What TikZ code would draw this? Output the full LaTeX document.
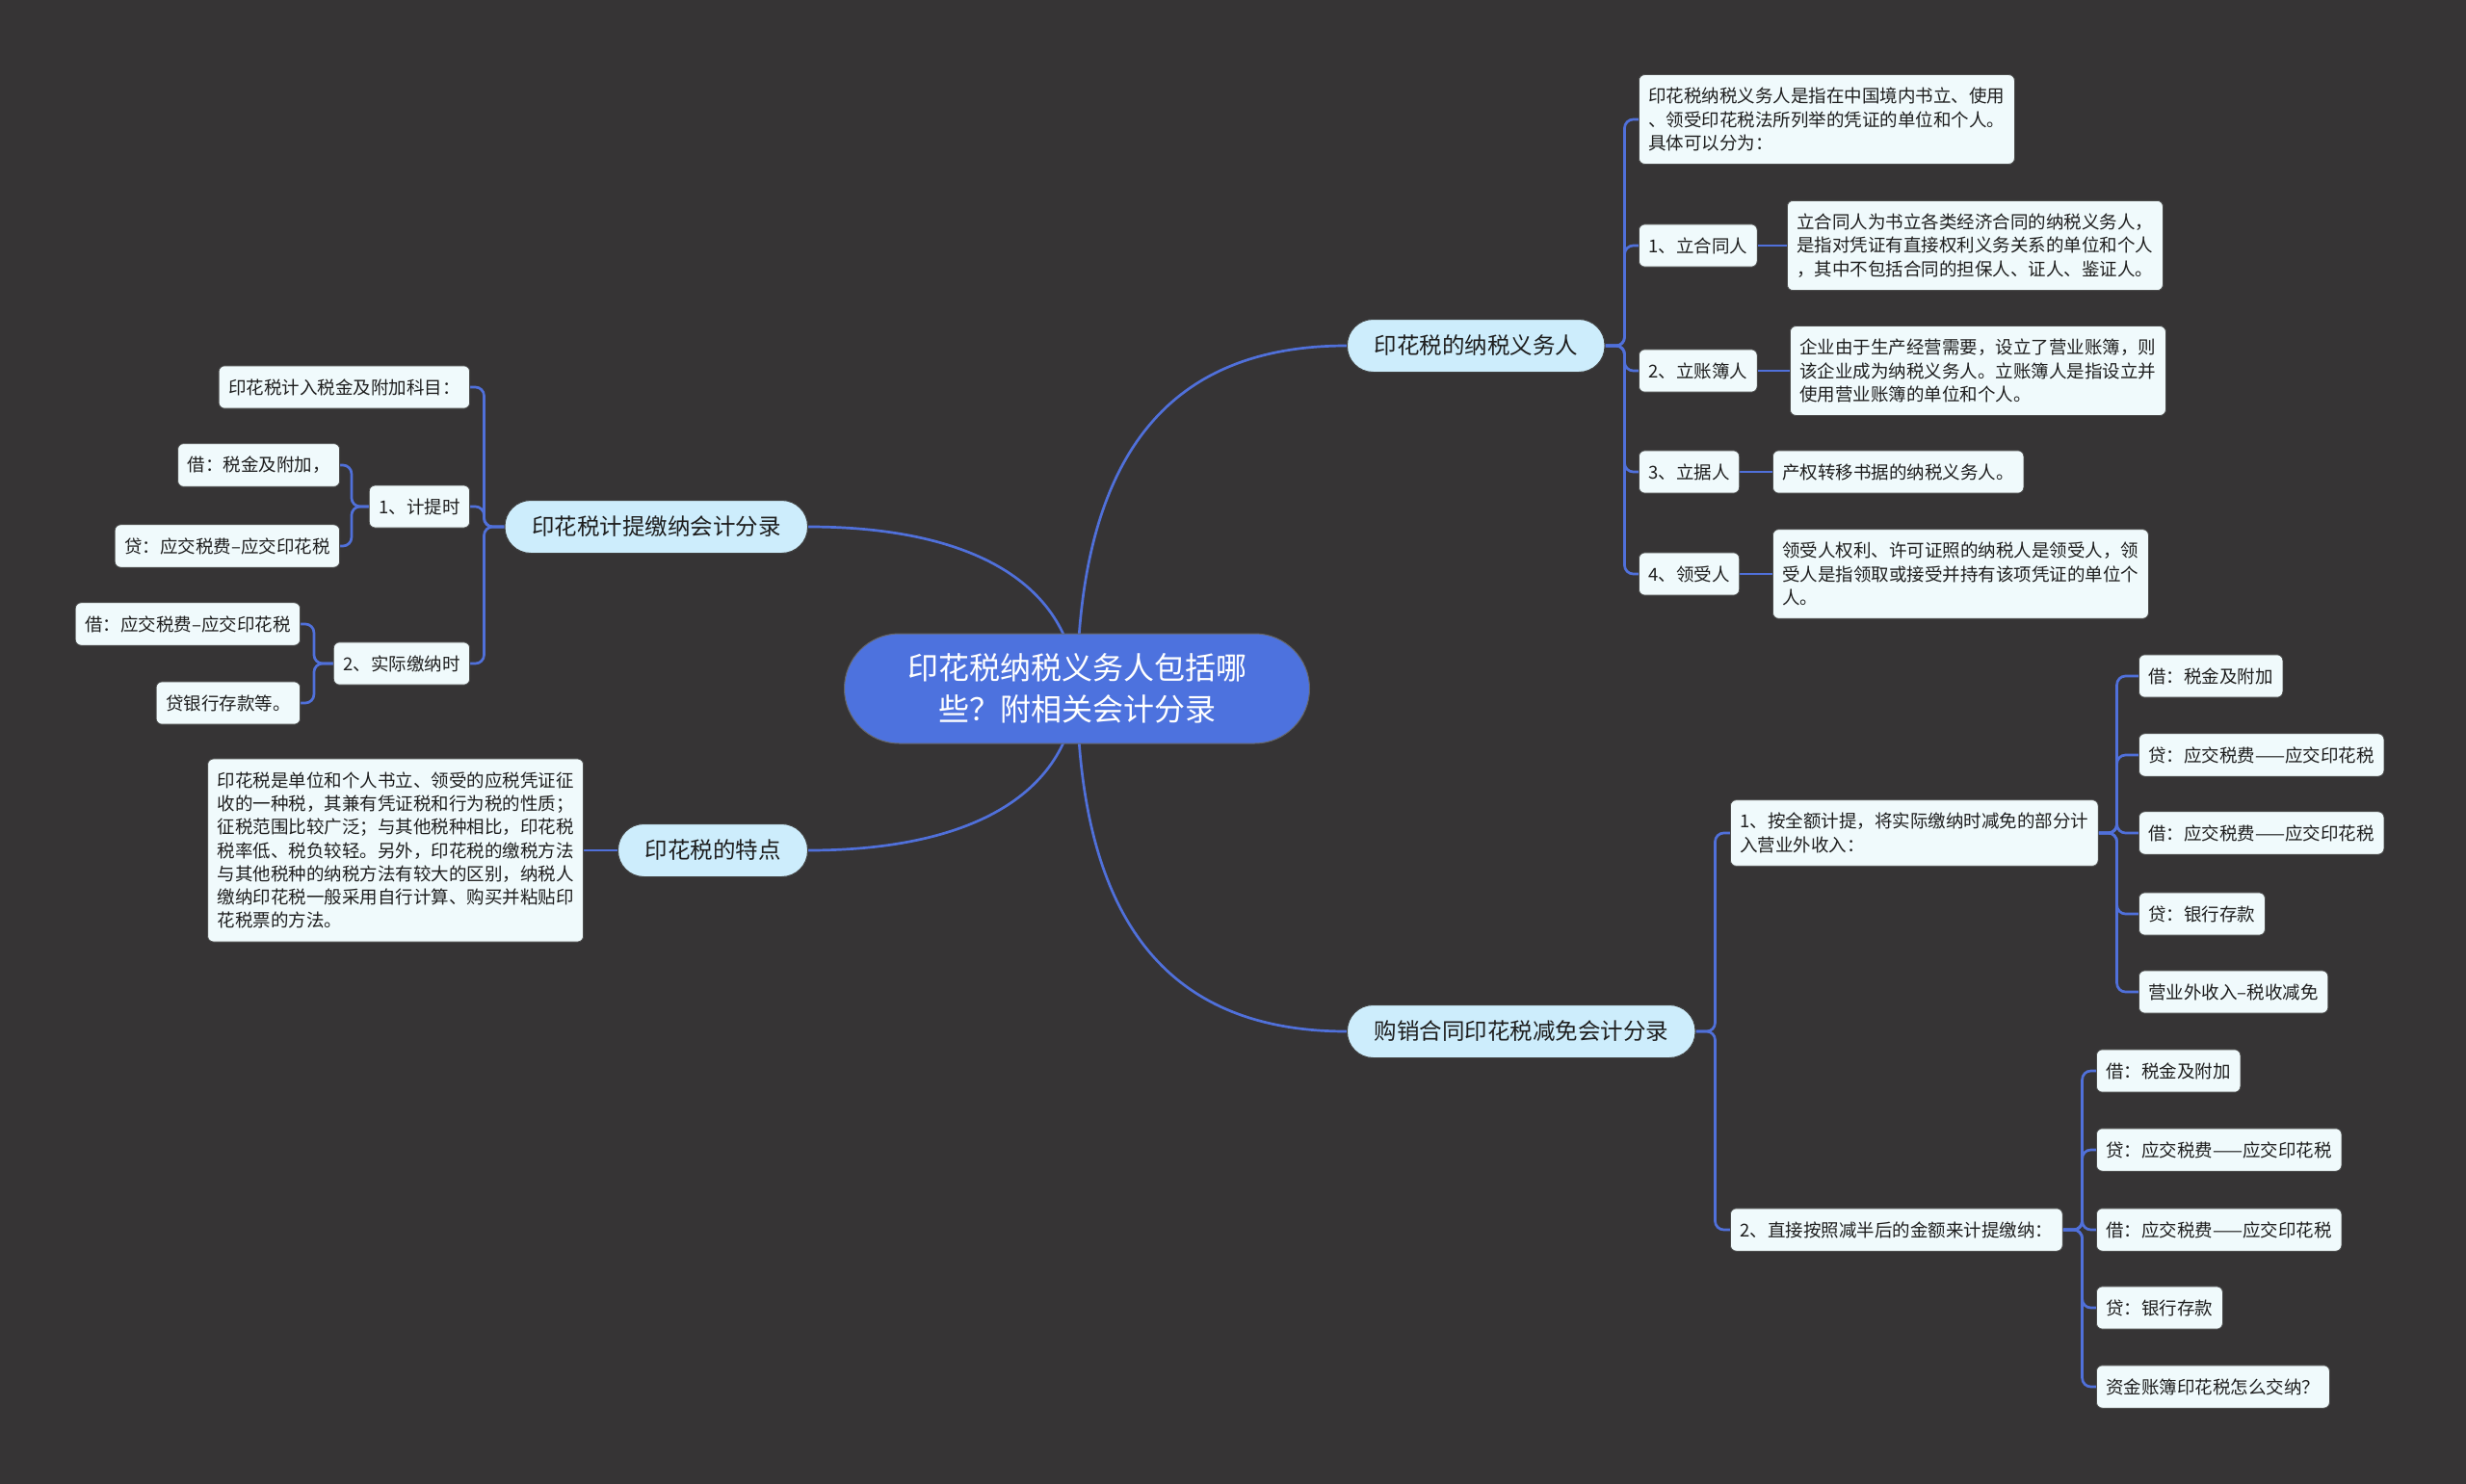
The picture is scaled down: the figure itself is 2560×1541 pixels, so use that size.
\documentclass[tikz,border=0pt]{standalone}
\usepackage{fontspec}
\setmainfont{Noto Sans CJK SC}
\usetikzlibrary{positioning}
\definecolor{bgc}{RGB}{54,52,53}
\definecolor{linec}{RGB}{80,112,218}
\definecolor{rootc}{RGB}{77,114,222}
\definecolor{lvlc}{RGB}{205,237,252}
\definecolor{leafc}{RGB}{240,250,252}
\definecolor{txt}{RGB}{30,30,30}
\pgfdeclarelayer{bglayer}
\pgfdeclarelayer{edgelayer}
\pgfsetlayers{bglayer,edgelayer,main}
\tikzset{
  rootnode/.style={draw=black!60, line width=1, fill=rootc, text=white, rounded corners=57,
    minimum width=483, minimum height=114, align=center, inner sep=0,
    font=\fontsize{32}{42.5}\selectfont},
  lvl/.style={draw=black!75, line width=1, fill=lvlc, text=txt, rounded corners=27,
    minimum height=55, inner xsep=28, inner ysep=0, font=\fontsize{23.5}{28}\selectfont},
  leaf/.style={draw=black!70, line width=0.8, fill=leafc, text=txt, rounded corners=6,
    minimum height=41, inner xsep=10, inner ysep=13.5, align=left,
    font=\fontsize{18.5}{24.3}\selectfont},
  conn/.style={draw=linec, line width=2.7, rounded corners=9},
  curve/.style={draw=linec, line width=2.7}
}
\begin{document}
\begin{tikzpicture}[x=1pt,y=-1pt]
\begin{pgfonlayer}{bglayer}
\path[fill=bgc, use as bounding box] (0,0) rectangle (2560,1541);
\end{pgfonlayer}

% root and main branches
\node[rootnode] (R) at (1118,715) {印花税纳税义务人包括哪\\些？附相关会计分录};
\node[lvl, anchor=west] (A) at (1398,359) {印花税的纳税义务人};
\node[lvl, anchor=west] (B) at (1398,1071) {购销合同印花税减免会计分录};
\node[lvl, anchor=east] (C) at (839,547) {印花税计提缴纳会计分录};
\node[lvl, anchor=east] (D) at (839,883) {印花税的特点};

% A branch
\node[leaf, anchor=west] (A0) at (1701,124) {印花税纳税义务人是指在中国境内书立、使用\\、领受印花税法所列举的凭证的单位和个人。\\具体可以分为：};
\node[leaf, anchor=west] (A1) at (1701,255) {1、立合同人};
\node[leaf, anchor=west] (A1c) at (1855,255) {立合同人为书立各类经济合同的纳税义务人，\\是指对凭证有直接权利义务关系的单位和个人\\，其中不包括合同的担保人、证人、鉴证人。};
\node[leaf, anchor=west] (A2) at (1701,385) {2、立账簿人};
\node[leaf, anchor=west] (A2c) at (1858,385) {企业由于生产经营需要，设立了营业账簿，则\\该企业成为纳税义务人。立账簿人是指设立并\\使用营业账簿的单位和个人。};
\node[leaf, anchor=west] (A3) at (1701,490) {3、立据人};
\node[leaf, anchor=west] (A3c) at (1840,490) {产权转移书据的纳税义务人。};
\node[leaf, anchor=west] (A4) at (1701,596) {4、领受人};
\node[leaf, anchor=west] (A4c) at (1840,596) {领受人权利、许可证照的纳税人是领受人，领\\受人是指领取或接受并持有该项凭证的单位个\\人。};

% B branch
\node[leaf, anchor=west] (B1) at (1796,865) {1、按全额计提，将实际缴纳时减免的部分计\\入营业外收入：};
\node[leaf, anchor=west] (B11) at (2220,702) {借：税金及附加};
\node[leaf, anchor=west] (B12) at (2220,784) {贷：应交税费——应交印花税};
\node[leaf, anchor=west] (B13) at (2220,865) {借：应交税费——应交印花税};
\node[leaf, anchor=west] (B14) at (2220,949) {贷：银行存款};
\node[leaf, anchor=west] (B15) at (2220,1030) {营业外收入–税收减免};
\node[leaf, anchor=west] (B2) at (1796,1277) {2、直接按照减半后的金额来计提缴纳：};
\node[leaf, anchor=west] (B21) at (2176,1112) {借：税金及附加};
\node[leaf, anchor=west] (B22) at (2176,1194) {贷：应交税费——应交印花税};
\node[leaf, anchor=west] (B23) at (2176,1277) {借：应交税费——应交印花税};
\node[leaf, anchor=west] (B24) at (2176,1358) {贷：银行存款};
\node[leaf, anchor=west] (B25) at (2176,1440) {资金账簿印花税怎么交纳？};

% C branch
\node[leaf, anchor=east] (C0) at (488,402) {印花税计入税金及附加科目：};
\node[leaf, anchor=east] (C1) at (488,526) {1、计提时};
\node[leaf, anchor=east] (C11) at (353,483) {借：税金及附加，};
\node[leaf, anchor=east] (C12) at (353,567) {贷：应交税费–应交印花税};
\node[leaf, anchor=east] (C2) at (488,689) {2、实际缴纳时};
\node[leaf, anchor=east] (C21) at (312,648) {借：应交税费–应交印花税};
\node[leaf, anchor=east] (C22) at (312,730) {贷银行存款等。};

% D branch
\node[leaf, anchor=east] (D1) at (606,883) {印花税是单位和个人书立、领受的应税凭证征\\收的一种税，其兼有凭证税和行为税的性质；\\征税范围比较广泛；与其他税种相比，印花税\\税率低、税负较轻。另外，印花税的缴税方法\\与其他税种的纳税方法有较大的区别，纳税人\\缴纳印花税一般采用自行计算、购买并粘贴印\\花税票的方法。};

\begin{pgfonlayer}{edgelayer}
% root curves
\draw[curve] (R.center) .. controls (1120,470) and (1215,359) .. (A.west);
\draw[curve] (R.center) .. controls (1120,960) and (1215,1071) .. (B.west);
\draw[curve] (R.center) .. controls (1110,600) and (1000,547) .. (C.east);
\draw[curve] (R.center) .. controls (1110,830) and (1000,883) .. (D.east);
% A
\foreach \n in {A0,A1,A2,A3,A4} \draw[conn] (A.east) -- ++(20,0) |- (\n.west);
\foreach \n in {1,2,3,4} \draw[conn] (A\n.east) -- (A\n c.west);
% B
\foreach \n in {B1,B2} \draw[conn] (B.east) -- ++(20,0) |- (\n.west);
\foreach \n in {B11,B12,B13,B14,B15} \draw[conn] (B1.east) -- ++(19,0) |- (\n.west);
\foreach \n in {B21,B22,B23,B24,B25} \draw[conn] (B2.east) -- ++(20,0) |- (\n.west);
% C
\foreach \n in {C0,C1,C2} \draw[conn] (C.west) -- ++(-21,0) |- (\n.east);
\foreach \n in {C11,C12} \draw[conn] (C1.west) -- ++(-18,0) |- (\n.east);
\foreach \n in {C21,C22} \draw[conn] (C2.west) -- ++(-20,0) |- (\n.east);
% D
\draw[conn] (D.west) -- (D1.east);
\end{pgfonlayer}
\end{tikzpicture}
\end{document}
